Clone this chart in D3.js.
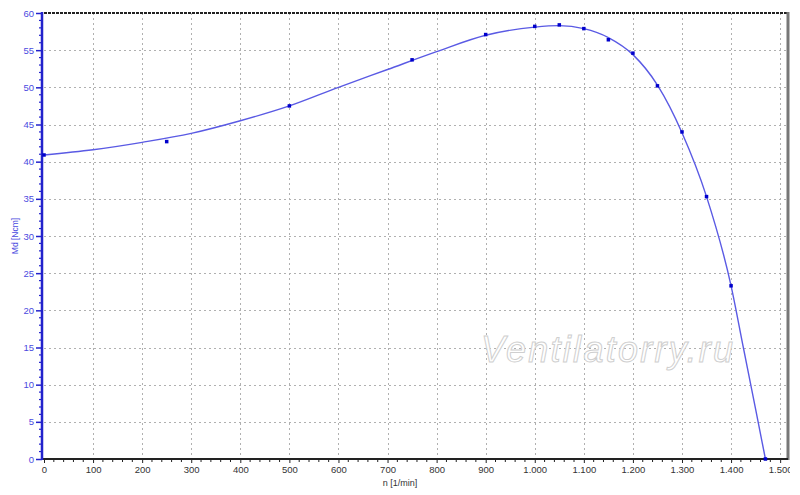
<!DOCTYPE html>
<html><head><meta charset="utf-8">
<script src="https://cdn.jsdelivr.net/npm/d3@7"></script>
<style>body{margin:0;background:#fff}svg{display:block}</style>
</head><body>
<svg id="c" width="800" height="495"></svg>
<script>
// Measured points (n [1/min], Md [Ncm])
const pointN  = [0, 250, 500, 750, 900, 1000, 1050, 1100, 1150, 1200, 1250, 1300, 1350, 1400, 1470];
const pointMd = [40.9, 42.7, 47.5, 53.7, 57.1, 58.2, 58.4, 57.9, 56.4, 54.6, 50.2, 44.0, 35.3, 23.3, 0];
// Fitted curve
const curveN  = [0, 100, 200, 300, 400, 500, 600, 700, 800, 900, 1000, 1050, 1100, 1150, 1200, 1250, 1300, 1350, 1400, 1425, 1450, 1470];
const curveMd = [40.9, 41.6, 42.6, 43.8, 45.5, 47.5, 50.0, 52.4, 54.8, 57.0, 58.1, 58.3, 57.9, 56.7, 54.4, 50.3, 43.9, 35.3, 23.3, 15.0, 6.7, 0];
const xTicks = [0, 100, 200, 300, 400, 500, 600, 700, 800, 900, 1000, 1100, 1200, 1300, 1400, 1500];
const yTicks = [0, 5, 10, 15, 20, 25, 30, 35, 40, 45, 50, 55, 60];
const xLabel = "n [1/min]";
const yLabel = "Md [Ncm]";
const watermark = "Ventilatorry.ru";

const svg = d3.select("#c");
const L = 44, R = 788, T = 13, B = 459;
const x = d3.scaleLinear().domain([0, 1516]).range([L, R]);
const y = d3.scaleLinear().domain([0, 60]).range([B, T]);
const loc = d3.formatLocale({decimal: ",", thousands: ".", grouping: [3], currency: ["", ""]});
const fmt = loc.format(",");

svg.append("defs").append("clipPath").attr("id", "vis")
  .append("rect").attr("x", 0).attr("y", 0).attr("width", 790).attr("height", 495);

// grid
const grid = svg.append("g").attr("stroke", "#b0b0b0").attr("stroke-width", 1).attr("stroke-dasharray", "2,3");
grid.selectAll(".gx").data(xTicks.filter(d => d > 0)).join("line")
  .attr("x1", d => Math.round(x(d)) + 0.5).attr("x2", d => Math.round(x(d)) + 0.5)
  .attr("y1", T).attr("y2", B);
grid.selectAll(".gy").data(yTicks.filter(d => d > 0 && d < 60)).join("line")
  .attr("y1", d => Math.round(y(d)) + 0.5).attr("y2", d => Math.round(y(d)) + 0.5)
  .attr("x1", L).attr("x2", R);

// borders
svg.append("line").attr("x1", L).attr("x2", R).attr("y1", T).attr("y2", T)
  .attr("stroke", "#222").attr("stroke-width", 2).attr("stroke-dasharray", "3,1");
svg.append("line").attr("x1", R).attr("x2", R).attr("y1", T - 1).attr("y2", B + 1)
  .attr("stroke", "#777").attr("stroke-width", 3);

// watermark
svg.append("text").attr("x", 481).attr("y", 362).attr("textLength", 252)
  .attr("font-family", "Liberation Sans, Arial, sans-serif").attr("font-style", "italic")
  .attr("font-size", 36).attr("fill", "#fff").attr("stroke", "#cfcfcf").attr("stroke-width", 1)
  .text(watermark);

// x axis
const xAxis = d3.axisBottom(x).tickValues(xTicks).tickFormat(fmt).tickSize(4).tickPadding(3);
const gx = svg.append("g").attr("transform", `translate(0,${B})`).call(xAxis).attr("clip-path", "url(#vis)");
gx.select(".domain").remove();
gx.selectAll(".tick line").attr("stroke", "#222");
gx.selectAll(".tick text").attr("fill", "#333").attr("font-size", 9.5).attr("font-family", "Liberation Sans, Arial, sans-serif");
const xMinor = d3.range(0, 1516, 20).filter(d => d % 100 !== 0);
svg.append("g").selectAll("line").data(xMinor).join("line")
  .attr("x1", d => x(d)).attr("x2", d => x(d)).attr("y1", B).attr("y2", B + 3)
  .attr("stroke", "#222");
svg.append("line").attr("x1", L - 2).attr("x2", R).attr("y1", B).attr("y2", B).attr("stroke", "#222").attr("stroke-width", 2);

// y axis
const yAxis = d3.axisLeft(y).tickValues(yTicks).tickSize(6).tickPadding(2);
const gy = svg.append("g").attr("transform", `translate(${L - 2},0)`).call(yAxis);
gy.select(".domain").remove();
gy.selectAll(".tick line").attr("stroke", "#2222cc").attr("stroke-width", 1.5);
gy.selectAll(".tick text").attr("fill", "#4a4ae0").attr("font-size", 9.5).attr("font-family", "Liberation Sans, Arial, sans-serif");
const yMinor = d3.range(0, 60, 1).filter(d => d % 5 !== 0);
svg.append("g").selectAll("line").data(yMinor).join("line")
  .attr("x1", L - 5).attr("x2", L - 2).attr("y1", d => y(d)).attr("y2", d => y(d))
  .attr("stroke", "#2222cc").attr("stroke-width", 1.2);
svg.append("line").attr("x1", L - 2).attr("x2", L - 2).attr("y1", T - 1).attr("y2", B + 1)
  .attr("stroke", "#2222cc").attr("stroke-width", 2.5);

// axis titles
svg.append("text").attr("x", 400).attr("y", 486).attr("text-anchor", "middle")
  .attr("font-size", 9).attr("font-family", "Liberation Sans, Arial, sans-serif").attr("fill", "#333")
  .text(xLabel);
svg.append("text").attr("transform", `translate(18,${(T + B) / 2}) rotate(-90)`).attr("text-anchor", "middle")
  .attr("font-size", 8.5).attr("font-family", "Liberation Sans, Arial, sans-serif").attr("fill", "#4a4ae0")
  .text(yLabel);

// curve
const curveData = curveN.map((n, i) => [n, curveMd[i]]);
svg.append("path").datum(curveData)
  .attr("d", d3.line().x(d => x(d[0])).y(d => y(d[1])).curve(d3.curveMonotoneX))
  .attr("fill", "none").attr("stroke", "#5a5ae4").attr("stroke-width", 1.4);

// points
svg.append("g").selectAll("rect").data(pointN.map((n, i) => [n, pointMd[i]])).join("rect")
  .attr("x", d => x(d[0]) - 1.75).attr("y", d => y(d[1]) - 1.75).attr("width", 3.5).attr("height", 3.5)
  .attr("fill", "#0000cc");
</script>
</body></html>
